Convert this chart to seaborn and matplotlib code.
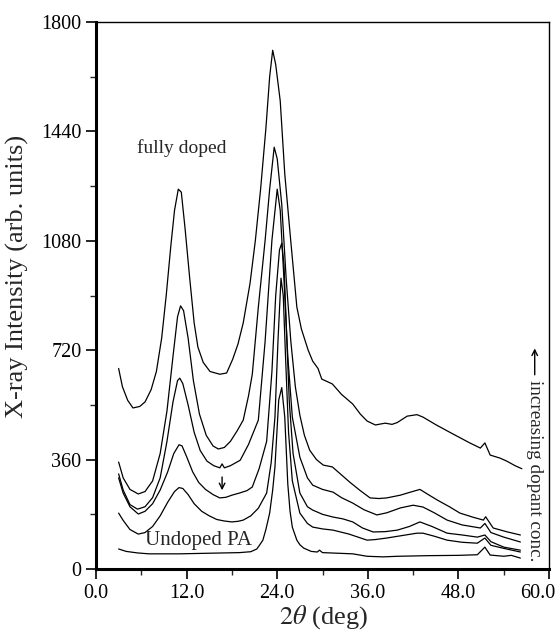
import matplotlib
matplotlib.use("Agg")
import matplotlib.pyplot as plt
import matplotlib.transforms as mtransforms
import seaborn as sns

# six XRD traces, from fully doped (top) down to undoped PA (bottom)
x_full = [3.0, 3.5, 4.2, 4.9, 5.8, 6.5, 7.3, 8.0, 8.7, 9.3, 9.9, 10.4, 10.9, 11.3, 11.8,
          12.4, 13.0, 13.5, 14.2, 15.1, 16.4, 17.3, 18.1, 18.8, 19.5, 20.4, 21.1, 21.8,
          22.5, 23.0, 23.4, 23.8, 24.4, 25.0, 25.7, 26.6, 27.2, 28.1, 28.7, 29.4, 29.9,
          31.3, 32.5, 34.0, 35.0, 35.9, 37.0, 38.3, 39.2, 39.9, 41.2, 42.5, 43.3, 45.0,
          47.3, 49.5, 50.9, 51.5, 52.2, 53.5, 54.4, 55.5, 56.4]
y_full = [660, 600, 555, 530, 535, 550, 590, 650, 760, 900, 1060, 1180, 1250, 1240, 1120,
          960, 810, 730, 680, 650, 641, 645, 690, 740, 810, 940, 1080, 1250,
          1450, 1620, 1707, 1660, 1540, 1300, 1105, 862, 790, 720, 684, 660, 625,
          609, 575, 543, 510, 487, 474, 480, 476, 482, 503, 508, 500, 475,
          444, 415, 398, 415, 375, 365, 355, 340, 330]

x_d2 = [3.0, 3.6, 4.5, 5.6, 6.5, 7.5, 8.5, 9.4, 10.2, 10.8, 11.2, 11.6, 12.2, 12.9, 13.7,
        14.6, 15.5, 16.2, 17.0, 17.8, 18.7, 19.5, 20.2, 20.7, 21.5, 22.4, 23.0, 23.6,
        24.0, 24.6, 25.2, 25.8, 26.4, 27.0, 27.6, 28.3, 29.2, 30.1, 31.3, 32.5, 33.6,
        35.0, 36.3, 37.5, 38.5, 40.3, 41.5, 42.9, 44.0, 45.2, 46.8, 48.2, 50.0, 51.3,
        51.6, 52.6, 54.5, 56.2]
y_d2 = [352, 300, 262, 247, 255, 290, 380, 520, 700, 830, 866, 850, 760, 620, 510,
        440, 405, 395, 400, 420, 455, 490, 570, 641, 862, 1082, 1250, 1388,
        1350, 1200, 950, 750, 600, 506, 440, 391, 360, 342, 336, 310, 286,
        258, 234, 232, 234, 243, 252, 262, 245, 227, 205, 184, 170, 161,
        172, 135, 122, 112]

x_d3 = [3.0, 3.6, 4.5, 5.5, 6.5, 7.5, 8.5, 9.4, 10.2, 10.8, 11.1, 11.5, 12.2, 13.0, 13.8,
        14.7, 15.6, 16.4, 16.7, 17.0, 17.8, 19.1, 20.2, 21.5, 22.4, 23.3, 24.0, 24.4,
        24.9, 25.4, 26.0, 27.0, 28.0, 28.7, 30.0, 31.4, 32.5, 34.0, 35.5, 37.2, 38.5,
        40.3, 42.0, 43.3, 44.8, 46.5, 48.5, 50.9, 51.5, 52.3, 54.0, 56.2]
y_d3 = [313, 260, 212, 197, 205, 235, 300, 420, 550, 620, 628, 610, 540, 450, 390,
        355, 340, 333, 346, 333, 340, 358, 410, 490, 750, 1082, 1250, 1180,
        950, 700, 500, 368, 300, 276, 262, 253, 235, 217, 195, 178, 185,
        201, 210, 204, 185, 161, 145, 135, 150, 120, 105, 89]

x_d4 = [3.0, 3.6, 4.5, 5.6, 6.5, 7.5, 8.5, 9.5, 10.3, 11.0, 11.4, 12.0, 12.8, 13.6, 14.5,
        15.5, 16.4, 17.2, 18.0, 19.0, 20.0, 20.7, 21.6, 22.6, 23.3, 23.8, 24.3, 24.6,
        24.9, 25.2, 25.6, 26.1, 27.0, 28.0, 28.7, 30.0, 31.4, 32.7, 34.0, 35.3, 36.7,
        38.3, 39.9, 41.5, 42.9, 44.5, 46.5, 48.5, 50.5, 51.5, 52.3, 54.0, 56.2]
y_d4 = [300, 250, 205, 181, 190, 215, 260, 320, 380, 409, 405, 370, 320, 285, 262,
        245, 234, 236, 243, 250, 258, 270, 330, 420, 650, 900, 1050, 1072,
        1000, 800, 550, 380, 250, 205, 194, 180, 171, 165, 155, 135, 122,
        123, 128, 140, 155, 140, 118, 112, 105, 112, 90, 72, 62]

x_d5 = [3.0, 3.6, 4.5, 5.6, 6.5, 7.5, 8.5, 9.5, 10.4, 11.0, 11.5, 12.2, 13.0, 14.0, 15.0,
        16.0, 17.0, 18.0, 18.8, 19.5, 20.5, 21.5, 22.6, 23.2, 23.7, 24.1, 24.5, 24.8,
        25.1, 25.5, 26.0, 27.0, 28.0, 28.7, 30.0, 31.4, 33.5, 35.9, 37.0, 38.5, 40.5,
        42.5, 43.3, 44.8, 46.5, 48.5, 50.5, 51.5, 52.3, 54.0, 56.2]
y_d5 = [184, 160, 130, 115, 120, 140, 175, 220, 255, 268, 265, 245, 215, 190, 175,
        163, 158, 155, 157, 161, 175, 200, 250, 350, 500, 750, 957, 900,
        700, 450, 290, 184, 150, 138, 132, 128, 115, 95, 97, 102, 110,
        118, 118, 108, 95, 88, 85, 102, 78, 68, 56]

x_undoped = [3.0, 4.0, 5.5, 7.0, 9.0, 11.0, 13.0, 15.0, 17.0, 19.0, 20.5, 21.3, 21.7, 22.1,
             22.5, 23.0, 23.4, 23.7, 24.2, 24.6, 25.0, 25.4, 25.7, 26.0, 26.6, 27.0, 27.5,
             28.5, 29.3, 29.6, 30.0, 32.0, 34.0, 35.9, 38.0, 40.0, 44.0, 48.0, 50.5, 51.5,
             52.2, 54.0, 55.0, 56.2]
y_undoped = [66, 58, 53, 50, 50, 50, 51, 52, 53, 54, 57, 66, 80, 95,
             130, 184, 260, 336, 556, 597, 500, 280, 190, 138, 95, 80, 69,
             58, 56, 62, 54, 52, 50, 42, 40, 42, 44, 45, 47, 72,
             46, 42, 45, 36]

traces = [(x_full, y_full), (x_d2, y_d2), (x_d3, y_d3),
          (x_d4, y_d4), (x_d5, y_d5), (x_undoped, y_undoped)]

x_ticks = [0, 12, 24, 36, 48, 60]
y_ticks = [0, 360, 720, 1080, 1440, 1800]

sns.set_style("ticks")
plt.rcParams["font.family"] = ["Liberation Serif", "DejaVu Serif"]
plt.rcParams["mathtext.fontset"] = "stix"

fig = plt.figure(figsize=(5.58, 6.36), dpi=100)
ax = fig.add_axes([0.172, 0.1053, 0.812, 0.8601])

for xs, ys in traces:
    sns.lineplot(x=xs, y=ys, color="black", linewidth=0.9, estimator=None, ax=ax)

ax.set_xlim(0, 60)
ax.set_ylim(0, 1800)
ax.set_xticks(x_ticks)
ax.set_xticklabels([f"{v:.1f}" for v in x_ticks])
ax.set_yticks(y_ticks)
ax.set_yticklabels([str(v) for v in y_ticks])
ax.set_xticks([6, 18, 30, 42, 54], minor=True)
ax.set_yticks([180, 540, 900, 1260, 1620], minor=True)
ax.tick_params(which="major", direction="out", length=7, width=1.2, labelsize=14.5, colors="black")
ax.tick_params(which="minor", direction="out", length=4, width=1.0)

# keep the last x label inside the figure, as in the original
last = ax.get_xticklabels()[-1]
last.set_transform(last.get_transform() +
                   mtransforms.ScaledTranslation(-8 / 72, 0, fig.dpi_scale_trans))

for side in ["left", "bottom"]:
    ax.spines[side].set_linewidth(2.2)
for side in ["top", "right"]:
    ax.spines[side].set_linewidth(1.0)
    ax.spines[side].set_visible(True)
for s in ax.spines.values():
    s.set_color("black")

ax.set_xlabel(r"$2\theta$ (deg)", fontsize=19)
ax.set_ylabel("X-ray Intensity (arb. units)", fontsize=19)
ax.yaxis.set_label_coords(-0.148, 0.535)
ax.xaxis.set_label_coords(0.503, -0.062)

ax.text(5.4, 1385, "fully doped", fontsize=14, va="center", ha="left")
ax.text(13.6, 95, "Undoped PA", fontsize=15, va="center", ha="center")
ax.annotate("", xy=(16.7, 250), xytext=(16.7, 312),
            arrowprops=dict(arrowstyle="->", lw=1.0, color="black"))
ax.annotate("", xy=(58.1, 735), xytext=(58.1, 630),
            arrowprops=dict(arrowstyle="->", lw=1.0, color="black"))
ax.text(58.1, 322, "increasing dopant conc.", fontsize=13.8, rotation=-90,
        va="center", ha="center")

fig.savefig("out.png", dpi=100)
